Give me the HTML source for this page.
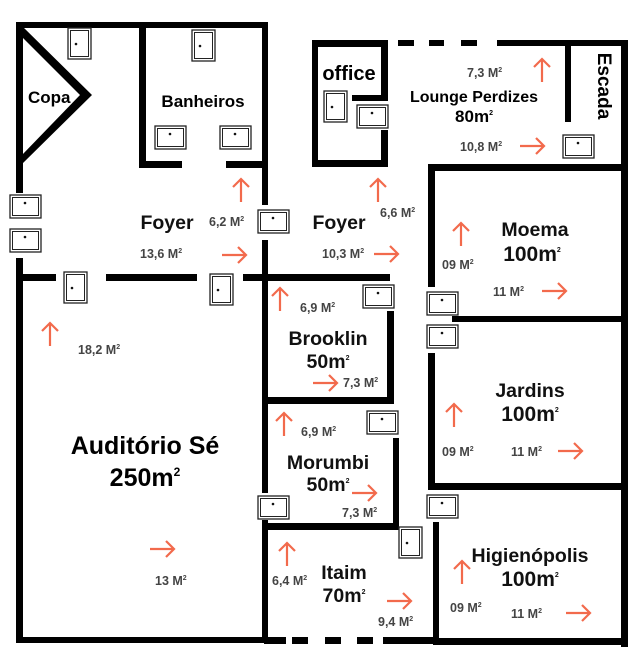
<!DOCTYPE html>
<html><head><meta charset="utf-8"><style>
html,body{margin:0;padding:0;background:#fff;}
svg{display:block;}
text{font-family:"Liberation Sans",sans-serif;font-weight:bold;}
.r{font-size:19.5px;fill:#111;}
.b{font-size:21px;fill:#111;}
.s{font-size:12.5px;fill:#444;}
.sup{font-size:7px;}
</style></head><body>
<svg width="642" height="670" viewBox="0 0 642 670" xmlns="http://www.w3.org/2000/svg">
<defs>
<g id="dh"><rect x="0" y="0" width="31" height="23" fill="#fff" stroke="#222" stroke-width="1.3"/><rect x="2.5" y="2.5" width="26" height="18" fill="none" stroke="#222" stroke-width="1"/><circle cx="15" cy="8" r="1.3" fill="#111"/></g>
<g id="dv"><rect x="0" y="0" width="23" height="31" fill="#fff" stroke="#222" stroke-width="1.3"/><rect x="2.5" y="2.5" width="18" height="26" fill="none" stroke="#222" stroke-width="1"/><circle cx="8" cy="16" r="1.3" fill="#111"/></g>
<g id="au"><path d="M0 24 V1 M-8 9 L0 1 L8 9" fill="none" stroke="#f26a4c" stroke-width="2.2"/></g>
<g id="ar"><path d="M0 0 H24 M16 -8 L24 0 L16 8" fill="none" stroke="#f26a4c" stroke-width="2.2"/></g>
</defs>
<g fill="#000">
<rect x="16" y="22" width="252" height="6"/>
<rect x="16" y="22" width="7" height="171"/>
<rect x="16" y="258" width="7" height="385"/>
<rect x="16" y="637" width="248" height="6"/>
<polygon points="22,26 92,95 22,164 22,155 80,95 22,37"/>
<rect x="139" y="28" width="7" height="140"/>
<rect x="139" y="161" width="43" height="7"/>
<rect x="226" y="161" width="42" height="7"/>
<rect x="262" y="22" width="6" height="183"/>
<rect x="262" y="240" width="6" height="253"/>
<rect x="262" y="520" width="6" height="123"/>
<rect x="22" y="274" width="34" height="7"/>
<rect x="106" y="274" width="91" height="7"/>
<rect x="243" y="274" width="147" height="7"/>
<rect x="312" y="40" width="76" height="7"/>
<rect x="312" y="40" width="6" height="127"/>
<rect x="312" y="160" width="76" height="7"/>
<rect x="381" y="40" width="7" height="60"/>
<rect x="352" y="95" width="36" height="6"/>
<rect x="381" y="130" width="7" height="37"/>
<rect x="398" y="40" width="16" height="6"/>
<rect x="429" y="40" width="15" height="6"/>
<rect x="461" y="40" width="16" height="6"/>
<rect x="497" y="40" width="131" height="6"/>
<rect x="621" y="40" width="7" height="607"/>
<rect x="565" y="40" width="6" height="82"/>
<rect x="428" y="164" width="200" height="7"/>
<rect x="428" y="164" width="7" height="123"/>
<rect x="452" y="316" width="176" height="6"/>
<rect x="428" y="353" width="7" height="137"/>
<rect x="428" y="483" width="200" height="7"/>
<rect x="433" y="522" width="6" height="123"/>
<rect x="436" y="638" width="192" height="7"/>
<rect x="387" y="311" width="7" height="93"/>
<rect x="262" y="397" width="132" height="7"/>
<rect x="393" y="438" width="6" height="92"/>
<rect x="262" y="523" width="137" height="7"/>
<rect x="264" y="637" width="22" height="7"/>
<rect x="292" y="637" width="16" height="7"/>
<rect x="325" y="637" width="16" height="7"/>
<rect x="357" y="637" width="16" height="7"/>
<rect x="383" y="637" width="50" height="7"/>
</g>
<use href="#dv" x="68" y="28"/>
<use href="#dv" x="192" y="30"/>
<use href="#dh" x="155" y="126"/>
<use href="#dh" x="220" y="126"/>
<use href="#dh" x="10" y="195"/>
<use href="#dh" x="10" y="229"/>
<use href="#dv" x="64" y="272"/>
<use href="#dv" x="210" y="274"/>
<use href="#dh" x="258" y="210"/>
<use href="#dv" x="324" y="91"/>
<use href="#dh" x="357" y="105"/>
<use href="#dh" x="563" y="135"/>
<use href="#dh" x="363" y="285"/>
<use href="#dh" x="427" y="292"/>
<use href="#dh" x="427" y="325"/>
<use href="#dh" x="367" y="411"/>
<use href="#dh" x="258" y="496"/>
<use href="#dh" x="427" y="495"/>
<use href="#dv" x="399" y="527"/>
<use href="#au" x="241" y="178"/>
<use href="#ar" x="222" y="255"/>
<use href="#au" x="378" y="178"/>
<use href="#ar" x="374" y="254"/>
<use href="#au" x="542" y="58"/>
<use href="#ar" x="520" y="146"/>
<use href="#au" x="461" y="222"/>
<use href="#ar" x="542" y="291"/>
<use href="#au" x="280" y="287"/>
<use href="#ar" x="313" y="383"/>
<use href="#au" x="284" y="412"/>
<use href="#ar" x="352" y="493"/>
<use href="#au" x="287" y="542"/>
<use href="#ar" x="387" y="601"/>
<use href="#au" x="454" y="403"/>
<use href="#ar" x="558" y="451"/>
<use href="#au" x="462" y="560"/>
<use href="#ar" x="566" y="613"/>
<use href="#au" x="50" y="322"/>
<use href="#ar" x="150" y="549"/>
<text x="28" y="103" style="font-size:17px">Copa</text>
<text x="203" y="107" text-anchor="middle" style="font-size:17px">Banheiros</text>
<text x="167" y="229" text-anchor="middle" class="r">Foyer</text>
<text x="209" y="226" class="s">6,2 M<tspan class="sup" dy="-5">2</tspan></text>
<text x="140" y="258" class="s">13,6 M<tspan class="sup" dy="-5">2</tspan></text>
<text x="339" y="229" text-anchor="middle" class="r">Foyer</text>
<text x="380" y="217" class="s">6,6 M<tspan class="sup" dy="-5">2</tspan></text>
<text x="322" y="258" class="s">10,3 M<tspan class="sup" dy="-5">2</tspan></text>
<text x="349" y="80" text-anchor="middle" style="font-size:20px">office</text>
<text x="467" y="77" class="s">7,3 M<tspan class="sup" dy="-5">2</tspan></text>
<text x="474" y="102" text-anchor="middle" style="font-size:16px">Lounge Perdizes</text>
<text x="474" y="122" text-anchor="middle" style="font-size:17px">80m<tspan class="sup" dy="-7">2</tspan></text>
<text x="460" y="151" class="s">10,8 M<tspan class="sup" dy="-5">2</tspan></text>
<text x="591" y="93" text-anchor="middle" transform="rotate(90 598 93)" style="font-size:19px">Escada</text>
<text x="535" y="236" text-anchor="middle" class="r">Moema</text>
<text x="532" y="261" text-anchor="middle" class="b">100m<tspan class="sup" dy="-9">2</tspan></text>
<text x="442" y="269" class="s">09 M<tspan class="sup" dy="-5">2</tspan></text>
<text x="493" y="296" class="s">11 M<tspan class="sup" dy="-5">2</tspan></text>
<text x="300" y="312" class="s">6,9 M<tspan class="sup" dy="-5">2</tspan></text>
<text x="328" y="345" text-anchor="middle" class="r">Brooklin</text>
<text x="328" y="368" text-anchor="middle" class="r">50m<tspan class="sup" dy="-8">2</tspan></text>
<text x="343" y="387" class="s">7,3 M<tspan class="sup" dy="-5">2</tspan></text>
<text x="301" y="436" class="s">6,9 M<tspan class="sup" dy="-5">2</tspan></text>
<text x="328" y="469" text-anchor="middle" class="r">Morumbi</text>
<text x="328" y="491" text-anchor="middle" class="r">50m<tspan class="sup" dy="-8">2</tspan></text>
<text x="342" y="517" class="s">7,3 M<tspan class="sup" dy="-5">2</tspan></text>
<text x="272" y="585" class="s">6,4 M<tspan class="sup" dy="-5">2</tspan></text>
<text x="344" y="579" text-anchor="middle" class="r">Itaim</text>
<text x="344" y="602" text-anchor="middle" class="r">70m<tspan class="sup" dy="-8">2</tspan></text>
<text x="378" y="626" class="s">9,4 M<tspan class="sup" dy="-5">2</tspan></text>
<text x="530" y="397" text-anchor="middle" class="r">Jardins</text>
<text x="530" y="421" text-anchor="middle" class="b">100m<tspan class="sup" dy="-9">2</tspan></text>
<text x="442" y="456" class="s">09 M<tspan class="sup" dy="-5">2</tspan></text>
<text x="511" y="456" class="s">11 M<tspan class="sup" dy="-5">2</tspan></text>
<text x="530" y="562" text-anchor="middle" class="r">Higienópolis</text>
<text x="530" y="586" text-anchor="middle" class="b">100m<tspan class="sup" dy="-9">2</tspan></text>
<text x="450" y="612" class="s">09 M<tspan class="sup" dy="-5">2</tspan></text>
<text x="511" y="618" class="s">11 M<tspan class="sup" dy="-5">2</tspan></text>
<text x="78" y="354" class="s">18,2 M<tspan class="sup" dy="-5">2</tspan></text>
<text x="145" y="454" text-anchor="middle" style="font-size:25px">Auditório Sé</text>
<text x="145" y="486" text-anchor="middle" style="font-size:25px">250m<tspan style="font-size:12px" dy="-10">2</tspan></text>
<text x="155" y="585" class="s">13 M<tspan class="sup" dy="-5">2</tspan></text>
</svg>
</body></html>
